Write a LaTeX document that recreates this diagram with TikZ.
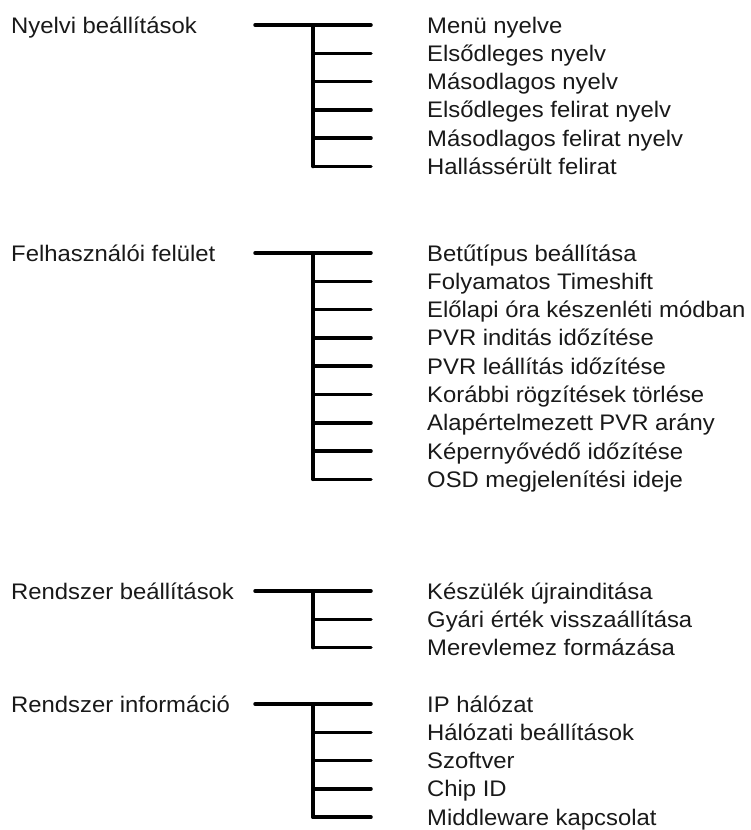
\documentclass[tikz,border=0pt]{standalone}
\usepackage{fontspec}
\setmainfont{Liberation Sans}[FakeStretch=1.06]
\usetikzlibrary{positioning}

\begin{document}
\begin{tikzpicture}[x=1pt,y=-1pt,
  menu/.style={anchor=west,inner sep=0pt,text height=16pt,text depth=0pt,
    font=\fontsize{22.5}{26}\selectfont,text=black!90},
  tree/.style={line width=3.5pt,line cap=round}]
\useasboundingbox (0,0) rectangle (750,830);
% group / top line / number of items / heading / items
\foreach \g/\top/\n/\head/\list in {
  1/25/6/{Nyelvi beállítások}/{Menü nyelve,Elsődleges nyelv,Másodlagos nyelv,Elsődleges felirat nyelv,Másodlagos felirat nyelv,Hallássérült felirat},
  2/253/9/{Felhasználói felület}/{Betűtípus beállítása,Folyamatos Timeshift,Előlapi óra készenléti módban,PVR inditás időzítése,PVR leállítás időzítése,Korábbi rögzítések törlése,Alapértelmezett PVR arány,Képernyővédő időzítése,OSD megjelenítési ideje},
  3/591/3/{Rendszer beállítások}/{Készülék újrainditása,Gyári érték visszaállítása,Merevlemez formázása},
  4/704/5/{Rendszer információ}/{IP hálózat,Hálózati beállítások,Szoftver,Chip ID,Middleware kapcsolat}}
{
  \node[menu] (h\g) at (11,\top) {\head};
  \coordinate (s\g) at (255,\top);
  \coordinate (v\g) at (313,\top);
  \foreach \t [count=\k] in \list {
    \node[menu] (i\g-\k) at ({427},{\top+(\k-1)*28.3}) {\t};
    \draw[tree] (v\g |- i\g-\k.west) -- ([xshift=-56pt]i\g-\k.west);
  }
  \draw[tree] (s\g) -- (v\g);
  \draw[tree] (v\g) -- (v\g |- i\g-\n.west);
}
\end{tikzpicture}
\end{document}
